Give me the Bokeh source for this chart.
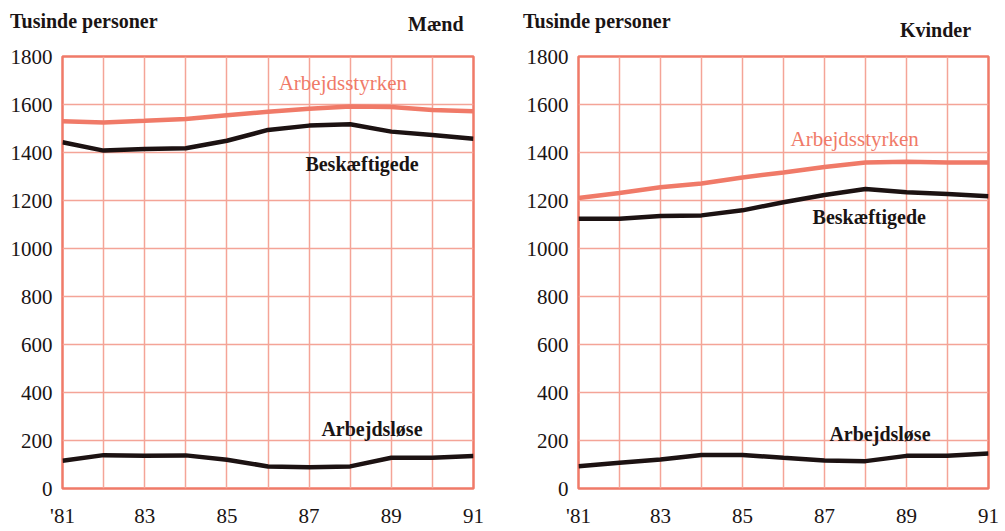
from bokeh.plotting import figure
from bokeh.layouts import row, column
from bokeh.models import Range1d, FixedTicker, Label, Div
from bokeh.embed import file_html
from bokeh.resources import INLINE

years = [1981, 1982, 1983, 1984, 1985, 1986, 1987, 1988, 1989, 1990, 1991]
x_tick_years = [1981, 1983, 1985, 1987, 1989, 1991]
x_tick_labels = ["'81", "83", "85", "87", "89", "91"]
y_ticks = [0, 200, 400, 600, 800, 1000, 1200, 1400, 1600, 1800]

# Mænd
men_arbejdsstyrken = [1530, 1525, 1532, 1540, 1555, 1570, 1582, 1592, 1590, 1577, 1572]
men_beskaeftigede = [1443, 1408, 1415, 1418, 1449, 1494, 1512, 1518, 1487, 1473, 1457]
men_arbejdsloese = [116, 139, 136, 138, 120, 92, 89, 92, 128, 128, 135]

# Kvinder
women_arbejdsstyrken = [1210, 1231, 1255, 1271, 1296, 1317, 1340, 1358, 1361, 1358, 1358]
women_beskaeftigede = [1124, 1124, 1135, 1138, 1159, 1193, 1223, 1248, 1234, 1227, 1218]
women_arbejdsloese = [93, 107, 121, 140, 140, 128, 117, 114, 136, 136, 146]

SALMON = "#f07a68"
GRID = "#f4a497"
DARK = "#1c1212"
TEXT = "#1a1414"
FONT = "Liberation Serif"
AXIS_FONT = "Liberation Serif, Times New Roman, serif"
TOP = 40
H = 490


def make_panel(width, borders, styrke, besk, loese, lbl_styrke, lbl_besk, lbl_loese):
    p = figure(width=width, height=H, output_backend="svg", toolbar_location=None,
               x_range=Range1d(1981, 1991), y_range=Range1d(0, 1800))
    p.min_border_left, p.min_border_right, p.min_border_top, p.min_border_bottom = borders
    p.outline_line_color = SALMON
    p.outline_line_width = 2.5
    p.background_fill_color = "white"
    p.border_fill_color = "white"

    p.xaxis.ticker = FixedTicker(ticks=x_tick_years)
    p.xaxis.major_label_overrides = {y: l for y, l in zip(x_tick_years, x_tick_labels)}
    p.yaxis.ticker = FixedTicker(ticks=y_ticks)
    for ax in (p.xaxis, p.yaxis):
        ax.axis_line_color = None
        ax.major_tick_line_color = None
        ax.major_tick_out = 0
        ax.major_tick_in = 0
        ax.minor_tick_line_color = None
        ax.major_label_text_font = AXIS_FONT
        ax.major_label_text_font_size = "21px"
        ax.major_label_text_color = TEXT
    p.xaxis.major_label_standoff = 15
    p.yaxis.major_label_standoff = 10

    p.xgrid.ticker = FixedTicker(ticks=years)
    p.ygrid.ticker = FixedTicker(ticks=y_ticks)
    for g in (p.xgrid, p.ygrid):
        g.grid_line_color = GRID
        g.grid_line_width = 1.5

    p.line(years, styrke, line_color=SALMON, line_width=4.5)
    p.line(years, besk, line_color=DARK, line_width=4.5)
    p.line(years, loese, line_color=DARK, line_width=4.5)

    def lab(text, pos, color=TEXT, size="20px", weight="bold"):
        p.add_layout(Label(x=pos[0], y=pos[1], text=text, text_font=FONT,
                           text_font_size=size, text_color=color,
                           text_baseline="middle", text_align="left",
                           text_font_style=weight))

    lab("Arbejdsstyrken", lbl_styrke, color=SALMON, size="21px", weight="normal")
    lab("Beskæftigede", lbl_besk)
    lab("Arbejdsløse", lbl_loese)
    return p


left = make_panel(500, (62, 27, 16, 40),
                  men_arbejdsstyrken, men_beskaeftigede, men_arbejdsloese,
                  (1986.26, 1688), (1986.91, 1353), (1987.30, 248))

right = make_panel(503, (78, 15, 16, 40),
                   women_arbejdsstyrken, women_beskaeftigede, women_arbejdsloese,
                   (1986.17, 1456), (1986.71, 1132), (1987.12, 228))

span = ("position:absolute;left:{x}px;top:{y}px;font-family:'Liberation Serif';"
        "font-weight:bold;font-size:20px;line-height:20px;color:#1a1414;white-space:nowrap;")
titles = [("Tusinde personer", 10, 11), ("Mænd", 408, 14),
          ("Tusinde personer", 523, 11), ("Kvinder", 900, 20)]
html = '<div style="position:relative;width:1003px;height:%dpx;margin:0;padding:0;">' % TOP
for t, x, y in titles:
    html += '<span style="%s">%s</span>' % (span.format(x=x, y=y), t)
html += "</div>"
header = Div(text=html, width=1003, height=TOP, margin=0)

layout = column(header, row(left, right), spacing=0)
open("out.html", "w").write(file_html(layout, INLINE))
